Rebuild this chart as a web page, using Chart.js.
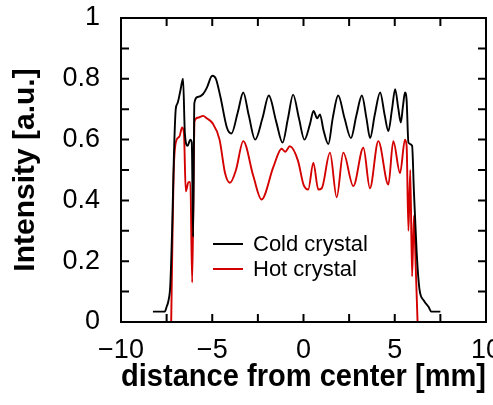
<!DOCTYPE html>
<html>
<head>
<meta charset="utf-8">
<script src="https://cdn.jsdelivr.net/npm/chart.js@4/dist/chart.umd.min.js"></script>
<style>
  html, body { margin: 0; padding: 0; background: #fff; overflow: hidden; }
</style>
</head>
<body>
<canvas id="chart" width="493" height="405"></canvas>
<script>
// distance from center [mm] / intensity [a.u.]
const coldX = [-8.25, -7.6, -7.5, -7.4, -7.3, -7.2, -7.1, -7.0, -6.9, -6.75, -6.6, -6.5, -6.35, -6.2, -6.12, -6.05, -5.98,
  -5.8, -5.5, -5.3, -5.0, -4.8, -4.55, -4.2, -3.95, -3.6, -3.3, -3.0, -2.65, -2.25, -1.9, -1.5, -1.15, -0.85, -0.57,
  -0.25, 0.05, 0.35, 0.55, 0.75, 0.9, 1.1, 1.36, 1.6, 1.9, 2.25, 2.6, 2.9, 3.2, 3.45, 3.65, 3.9, 4.2, 4.45, 4.65,
  4.85, 5.02, 5.2, 5.33, 5.45, 5.56, 5.65, 5.75, 5.95, 6.05, 6.2, 6.35, 6.6, 6.85, 7.0, 7.5];
const coldY = [0.034, 0.034, 0.05, 0.07, 0.12, 0.3, 0.55, 0.70, 0.72, 0.76, 0.80, 0.62, 0.58, 0.60, 0.59, 0.28, 0.72,
  0.74, 0.75, 0.77, 0.81, 0.80, 0.74, 0.64, 0.62, 0.69, 0.755, 0.68, 0.60, 0.67, 0.745, 0.66, 0.59, 0.67, 0.748,
  0.67, 0.60, 0.65, 0.694, 0.67, 0.683, 0.63, 0.585, 0.67, 0.745, 0.67, 0.605, 0.68, 0.745, 0.67, 0.605, 0.68, 0.755, 0.68, 0.628,
  0.70, 0.766, 0.70, 0.656, 0.71, 0.755, 0.73, 0.59, 0.58, 0.43, 0.23, 0.11, 0.07, 0.05, 0.034, 0.034];

const hotX = [-7.25, -7.2, -7.12, -7.0, -6.8, -6.65, -6.55, -6.45, -6.3, -6.2, -6.1, -5.97, -5.8, -5.5, -5.3, -5.0,
  -4.6, -4.3, -4.03, -3.7, -3.3, -2.75, -2.3, -1.65, -1.2, -1.0, -0.75, -0.3, 0.0, 0.26, 0.54, 0.81, 1.0, 1.45,
  1.82, 2.18, 2.73, 3.28, 3.64, 4.10, 4.65, 4.92, 5.29, 5.56, 5.65, 5.75, 5.85, 5.95, 6.05, 6.15, 6.25];
const hotY = [0.0, 0.2, 0.48, 0.59, 0.61, 0.64, 0.62, 0.43, 0.46, 0.46, 0.13, 0.66, 0.672, 0.678, 0.67, 0.655,
  0.60, 0.49, 0.458, 0.50, 0.595, 0.48, 0.403, 0.51, 0.57, 0.56, 0.578, 0.53, 0.452, 0.436, 0.524, 0.436, 0.44, 0.557,
  0.41, 0.557, 0.447, 0.573, 0.44, 0.595, 0.452, 0.595, 0.49, 0.60, 0.58, 0.30, 0.50, 0.15, 0.35, 0.18, 0.0];

const seriesNames = ["Cold crystal", "Hot crystal"];
const seriesColors = ["#000000", "#d40000"];
const xLabels = [-10, -5, 0, 5, 10];
const yLabels = [0, 0.2, 0.4, 0.6, 0.8, 1];

const toPoints = (xs, ys) => xs.map((x, i) => ({ x: x, y: ys[i] }));
const font = "'Liberation Sans', Arial, sans-serif";

// labels at the ends must not push the plot inwards
const noEdgePadding = s => {
  s.paddingLeft = 0; s.paddingRight = 0; s.paddingTop = 0; s.paddingBottom = 0;
};

// box round the plot, inward ticks on all four sides, legend inside the plot
const framePlugin = {
  id: "frame",
  afterDatasetsDraw(chart) {
    const { ctx, chartArea: a, scales: { x, y } } = chart;
    ctx.save();
    ctx.strokeStyle = "#000";
    ctx.lineWidth = 2;
    ctx.beginPath();
    x.ticks.forEach(t => {
      const px = x.getPixelForValue(t.value);
      if (px <= a.left + 1 || px >= a.right - 1) return;
      ctx.moveTo(px, a.bottom); ctx.lineTo(px, a.bottom - 8);
      ctx.moveTo(px, a.top); ctx.lineTo(px, a.top + 8);
    });
    y.ticks.forEach(t => {
      const py = y.getPixelForValue(t.value);
      if (py <= a.top + 1 || py >= a.bottom - 1) return;
      ctx.moveTo(a.left, py); ctx.lineTo(a.left + 8, py);
      ctx.moveTo(a.right, py); ctx.lineTo(a.right - 8, py);
    });
    ctx.stroke();
    ctx.strokeRect(a.left, a.top, a.right - a.left, a.bottom - a.top);

    // legend
    ctx.font = "22px " + font;
    ctx.textBaseline = "alphabetic";
    ctx.textAlign = "left";
    chart.data.datasets.forEach((ds, i) => {
      const ly = 244 + i * 25;
      ctx.strokeStyle = ds.borderColor;
      ctx.lineWidth = 2;
      ctx.beginPath();
      ctx.moveTo(213, ly); ctx.lineTo(243, ly);
      ctx.stroke();
      ctx.fillStyle = "#000";
      ctx.fillText(ds.label, 253, ly + 7);
    });
    ctx.restore();
  }
};

new Chart(document.getElementById("chart"), {
  type: "scatter",
  data: {
    datasets: [
      { label: seriesNames[0], data: toPoints(coldX, coldY), borderColor: seriesColors[0] },
      { label: seriesNames[1], data: toPoints(hotX, hotY), borderColor: seriesColors[1] }
    ].map(d => Object.assign(d, {
      showLine: true, borderWidth: 1.9, pointRadius: 0, fill: false,
      cubicInterpolationMode: "monotone"
    }))
  },
  options: {
    responsive: false,
    animation: false,
    layout: { autoPadding: false, padding: { top: 18, right: 7, left: 0, bottom: 0 } },
    plugins: { legend: { display: false }, tooltip: { enabled: false } },
    scales: {
      x: {
        type: "linear", min: -10, max: 10,
        grid: { display: false, drawTicks: false },
        border: { display: false },
        ticks: {
          stepSize: 2.5, autoSkip: false, maxRotation: 0, padding: 12, color: "#000",
          font: { family: font, size: 27 },
          callback: v => xLabels.includes(v) ? String(v).replace("-", "\u2212") : ""
        },
        title: {
          display: true, text: "distance from center [mm]", color: "#000",
          font: { family: font, size: 31, weight: "bold" }, padding: { top: 0, bottom: 9 }
        },
        afterFit: s => { s.height = 83; noEdgePadding(s); }
      },
      y: {
        min: 0, max: 1,
        grid: { display: false, drawTicks: false },
        border: { display: false },
        ticks: {
          stepSize: 0.1, autoSkip: false, padding: 21, color: "#000",
          font: { family: font, size: 27 },
          callback: v => {
            const r = Math.round(v * 10) / 10;
            return yLabels.includes(r) ? String(r) : "";
          }
        },
        title: {
          display: true, text: "Intensity [a.u.]", color: "#000",
          font: { family: font, size: 30, weight: "bold" }, padding: { top: 8, bottom: 0 }
        },
        afterFit: s => { s.width = 121; noEdgePadding(s); }
      }
    }
  },
  plugins: [framePlugin]
});
</script>
</body>
</html>
